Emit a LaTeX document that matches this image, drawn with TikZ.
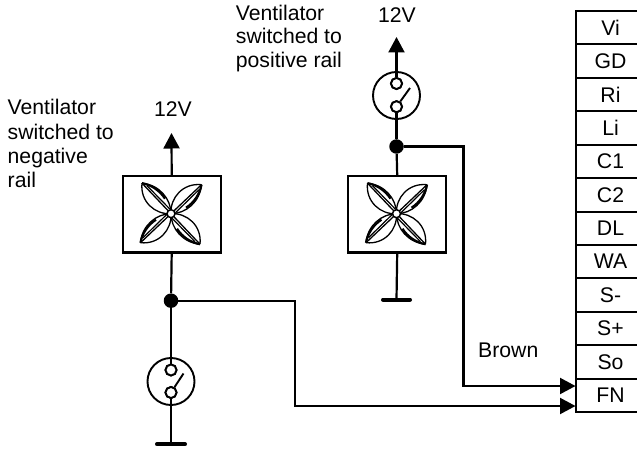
\documentclass[tikz,border=0pt]{standalone}
\usepackage{fontspec}
\setmainfont{Liberation Sans}
\usetikzlibrary{arrows.meta}
\tikzset{
  x=1pt,y=-1pt,
  wire/.style={line width=2.2pt,draw=black,line join=miter},
  power/.style={wire,-{Triangle[length=15.5pt,width=16pt]}},
  fanbox/.style={draw=black,line width=2.3pt,fill=white,minimum width=98pt,minimum height=76.5pt,inner sep=0pt},
  swcircle/.style={circle,draw=black,line width=1.9pt,minimum size=47pt,inner sep=0pt},
  contact/.style={circle,draw=black,line width=1.9pt,fill=white,minimum size=11pt,inner sep=0pt},
  hub/.style={circle,draw=black,line width=1.5pt,fill=white,minimum size=8pt,inner sep=0pt},
  junction/.style={circle,fill=black,minimum size=14.5pt,inner sep=0pt},
  gndbar/.style={line width=4pt,line cap=round,draw=black},
  blade/.style={line width=1.9pt,draw=black},
  petal/.style={line width=1.3pt,draw=black},
  term/.style={draw=black,line width=2pt,fill=white,minimum width=70pt,minimum height=33.42pt,inner sep=0pt,font=\fontsize{21.2pt}{24pt}\selectfont},
  lbl/.style={font=\fontsize{21.2pt}{24pt}\selectfont,inner sep=0pt,anchor=base west,align=left},
  volt/.style={font=\fontsize{21.2pt}{24pt}\selectfont,inner sep=0pt,anchor=base},
  pics/fanblades/.style={code={
    \foreach \a in {0,90,180,270}{
      \begin{scope}[rotate=\a]
        \draw[petal] (0,0) .. controls (-16,1) and (-31,-12) .. (-29,-30.5);
        \draw[petal] (0,0) .. controls (0,-15) and (-12,-29) .. (-29,-30.5);
        \draw[petal] (-1,-1) -- (-29,-30.5);
        \draw[line width=2.2pt] (-6,-15) .. controls (-11,-23) and (-20,-29) .. (-29,-30.5);
        \draw[line width=1.2pt] (-1,-4.5) -- (-24,-28);
      \end{scope}
    }
  }},
}
\begin{document}
\begin{tikzpicture}
\path[use as bounding box,clip] (0,449) rectangle (637,0);
% terminal strip
\foreach \n/\t [count=\i from 0] in {a/Vi,b/GD,c/Ri,d/Li,e/C1,f/C2,g/DL,h/WA,i/S-,j/S+,k/So,l/FN}{
  \node[term] (t\n) at (610.5,{27.7+33.42*\i}) {\t};
}
% left circuit
\node[fanbox] (fanL) at (171.7,214.3) {};
\coordinate (topL) at (171.5,133);
\node[volt] (vL) at (173,117) {12V};
\draw[power] (fanL.north) -- (topL);
\pic at (171,213.7) {fanblades};
\node[hub] (hubL) at (171,213.7) {};
\node[junction] (dotL) at (171,300.7) {};
\node[swcircle] (swL) at (171,381.5) {};
\node[contact] (c1L) at (171,370) {};
\node[contact] (c2L) at (171,392.5) {};
\coordinate (bladeL) at (183.5,373.5);
\coordinate (gndL) at (171,444.3);
\coordinate (inL) at (575.5,406);
\draw[wire] (fanL.south) -- (dotL);
\draw[wire] (dotL) -- (c1L);
\draw[wire] (c2L) -- (gndL);
\draw[blade] (c2L) -- (bladeL);
\draw[gndbar] (157,444.3) -- (gndL) -- (185,444.3);
\draw[power] (dotL) -- (295,300.7) |- (inL);
\node[contact] at (c1L) {};
\node[contact] at (c2L) {};
% right circuit
\node[fanbox] (fanR) at (397.2,214.3) {};
\node[junction] (dotR) at (396.5,146.5) {};
\node[swcircle] (swR) at (396.5,95.5) {};
\node[contact] (c1R) at (396.5,83.5) {};
\node[contact] (c2R) at (396.5,106.7) {};
\coordinate (bladeR) at (410,88);
\coordinate (topR) at (396.5,37);
\coordinate (gndR) at (396.5,299.5);
\coordinate (inR) at (575.5,386);
\node[volt] (vR) at (397,22.7) {12V};
\draw[power] (c1R) -- (topR);
\draw[wire] (c2R) -- (dotR);
\draw[wire] (dotR) -- (fanR.north);
\draw[wire] (fanR.south) -- (gndR);
\draw[blade] (c2R) -- (bladeR);
\draw[gndbar] (383,299.5) -- (gndR) -- (410,299.5);
\draw[power] (dotR) -- (463.5,146.5) |- (inR);
\node[contact] at (c1R) {};
\node[contact] at (c2R) {};
\pic at (396.5,213.7) {fanblades};
\node[hub] (hubR) at (396.5,213.7) {};
% labels
\node[lbl] (lblL1) at (7.5,115) {Ventilator};
\node[lbl] (lblL2) at (7.5,140) {switched to};
\node[lbl] (lblL3) at (7.5,164) {negative};
\node[lbl] (lblL4) at (7.5,188) {rail};
\node[lbl] (lblR1) at (235.7,20.7) {Ventilator};
\node[lbl] (lblR2) at (235.7,44) {switched to};
\node[lbl] (lblR3) at (235.7,68) {positive rail};
\node[lbl] (brown) at (478,357.7) {Brown};
\end{tikzpicture}
\end{document}
